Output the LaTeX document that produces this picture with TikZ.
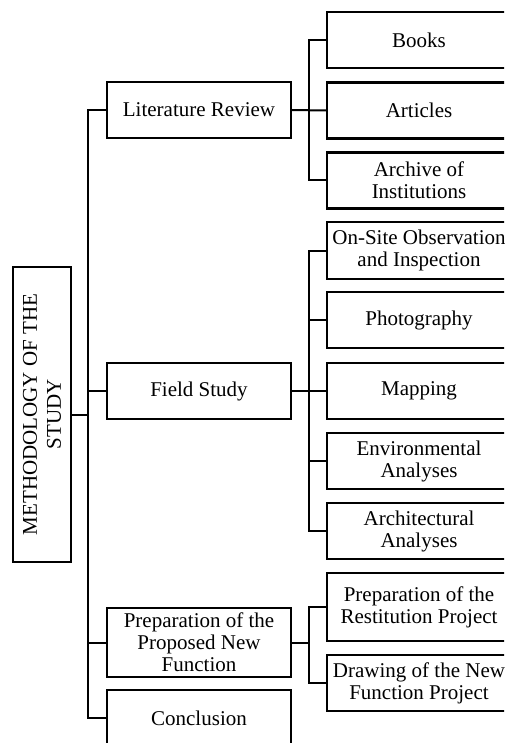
\documentclass[tikz,border=0pt]{standalone}
\usepackage{fontspec}
\setmainfont{Liberation Serif}
\begin{document}
\begin{tikzpicture}[x=1pt,y=-1pt,
  box/.style={draw, line width=2.2pt, inner sep=0pt, align=center, minimum width=184, font=\fontsize{21}{22}\selectfont},
  conn/.style={line width=2pt}]
\useasboundingbox (0,0) rectangle (504,743);
\clip (0,0) rectangle (504,743);
% left box
\node[draw, line width=2.2pt, inner sep=0pt, align=center, rotate=90, minimum width=295, minimum height=58, font=\fontsize{21}{24}\selectfont] (meth) at (42,414.5) {METHODOLOGY OF THE\\STUDY};
% middle column
\node[box, minimum height=56] (lit) at (199,110) {Literature Review};
\node[box, minimum height=56] (field) at (199,391) {Field Study};
\node[box, minimum height=69] (prep) at (199,642.5) {Preparation of the\\Proposed New\\Function};
\node[box, minimum height=56, text depth=0pt] (concl) at (199,718) {Conclusion};
% right column
\node[box, minimum height=56] (books) at (419,40) {Books};
\node[box, minimum height=56] (articles) at (419,110.5) {Articles};
\node[box, minimum height=56] (archive) at (419,180.5) {Archive of\\Institutions};
\node[box, minimum height=57] (onsite) at (419,250.5) {On-Site Observation\\and Inspection};
\node[box, minimum height=56] (photo) at (419,320) {Photography};
\node[box, minimum height=56] (mapping) at (419,391) {Mapping};
\node[box, minimum height=56] (env) at (419,461) {Environmental\\Analyses};
\node[box, minimum height=56] (arch) at (419,531) {Architectural\\Analyses};
\node[box, minimum height=68] (rest) at (419,607) {Preparation of the\\Restitution Project};
\node[box, minimum height=56] (drawing) at (419,683) {Drawing of the New\\Function Project};
% trunk coordinates
\coordinate (tr) at (88,0);
\coordinate (br) at (309,0);
% main trunk
\draw[conn] (lit.west) -- (lit.west -| tr) -- (concl.west -| tr) -- (concl.west);
\draw[conn] (field.west) -- (field.west -| tr);
\draw[conn] (prep.west) -- (prep.west -| tr);
\draw[conn] (meth.south) -- (meth.south -| tr);
% literature branch
\draw[conn] (books.west) -- (books.west -| br) -- (archive.west -| br) -- (archive.west);
\draw[conn] (lit.east) -- (articles.west);
% field branch
\draw[conn] (onsite.west) -- (onsite.west -| br) -- (arch.west -| br) -- (arch.west);
\draw[conn] (photo.west) -- (photo.west -| br);
\draw[conn] (env.west) -- (env.west -| br);
\draw[conn] (field.east) -- (mapping.west);
% preparation branch
\draw[conn] (rest.west) -- (rest.west -| br) -- (drawing.west -| br) -- (drawing.west);
\draw[conn] (prep.east) -- (prep.east -| br);
\end{tikzpicture}
\end{document}
